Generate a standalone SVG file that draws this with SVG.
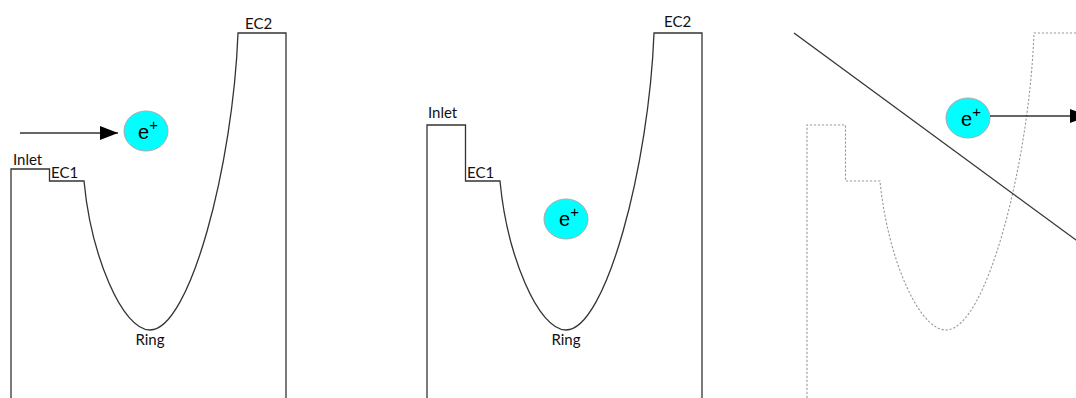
<svg xmlns="http://www.w3.org/2000/svg" width="1076" height="398" viewBox="0 0 1076 398">
<style>
.wall{fill:none;stroke:#333;stroke-width:1.3;stroke-linejoin:miter}
.ghost{fill:none;stroke:#999;stroke-width:1.1;stroke-dasharray:2.2 1.8}
.lbl{font-family:Lato,"Liberation Sans",sans-serif;font-size:15px;fill:#111}
.pos{fill:#00ffff;stroke:#aaa;stroke-width:1}
.pt{font-family:"Liberation Sans",Arial,sans-serif;font-size:20px;fill:#000}
.arr{stroke:#333;stroke-width:1.4;fill:none}
</style>
<defs>
<marker id="ah" markerUnits="userSpaceOnUse" markerWidth="19" markerHeight="14" refX="18" refY="7" orient="auto">
<path d="M0,0 L18,7 L0,14 z" fill="#000"/>
</marker>
</defs>
<rect width="1076" height="398" fill="#fff"/>

<g id="panel1">
<path class="wall" d="M11,398 L11,169 L49.5,169 L49.5,181 L84,181 C91,255 122,330 150,330 C190,330 233,165 238,33 L286,33 L286,398"/>
<text class="lbl" x="13" y="165">Inlet</text>
<text class="lbl" x="51" y="178">EC1</text>
<text class="lbl" x="245" y="29">EC2</text>
<text class="lbl" x="150" y="345" text-anchor="middle">Ring</text>
</g>

<g id="panel2">
<path class="wall" d="M427,398 L427,125 L465.5,125 L465.5,181 L500,181 C507,255 538,330 566,330 C606,330 649,165 654,33 L702,33 L702,398"/>
<text class="lbl" x="428" y="118">Inlet</text>
<text class="lbl" x="467" y="178">EC1</text>
<text class="lbl" x="664" y="27">EC2</text>
<text class="lbl" x="566" y="345" text-anchor="middle">Ring</text>
</g>

<g id="panel3">
<path class="ghost" d="M807,398 L807,125 L845.5,125 L845.5,181 L880,181 C887,255 918,330 946,330 C986,330 1029,165 1034,33 L1082,33"/>
<line x1="794" y1="33" x2="1080" y2="243" stroke="#333" stroke-width="1.3"/>
</g>

<g id="positron1">
<ellipse class="pos" cx="146" cy="131" rx="22" ry="20"/>
<text class="pt" x="138" y="139">e<tspan font-size="15" dy="-9">+</tspan></text>
</g>

<g id="positron2">
<ellipse class="pos" cx="566" cy="219" rx="22" ry="20"/>
<text class="pt" x="559" y="226">e<tspan font-size="15" dy="-9">+</tspan></text>
</g>

<g id="positron3">
<ellipse class="pos" cx="968" cy="118" rx="22" ry="20"/>
<text class="pt" x="961" y="126">e<tspan font-size="15" dy="-9">+</tspan></text>
</g>

<g id="connectors">
<line class="arr" x1="20" y1="133" x2="118" y2="133" marker-end="url(#ah)"/>
<line class="arr" x1="990" y1="116" x2="1088" y2="116" marker-end="url(#ah)"/>
</g>
</svg>
